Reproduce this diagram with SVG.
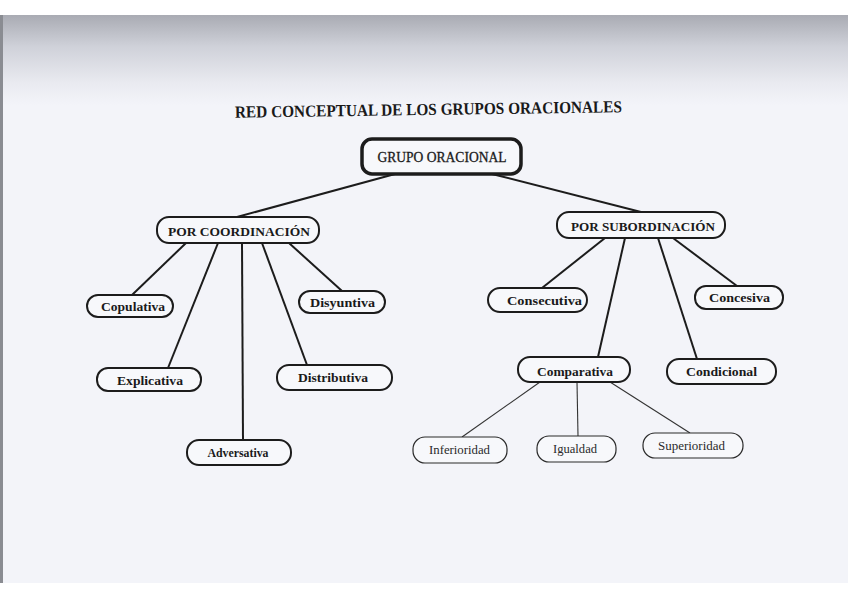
<svg xmlns="http://www.w3.org/2000/svg" width="848" height="599" viewBox="0 0 848 599">
  <defs>
    <linearGradient id="pageTop" x1="0" y1="0" x2="0" y2="1">
      <stop offset="0" stop-color="#a9abb3"/>
      <stop offset="0.35" stop-color="#cfd1d9"/>
      <stop offset="0.75" stop-color="#e9eaf0"/>
      <stop offset="1" stop-color="#f3f4f9"/>
    </linearGradient>
    <style>
      .box { fill: #f7f8fb; stroke: #1c1c1c; stroke-width: 2; }
      .main { fill: #f7f8fb; stroke: #1c1c1c; stroke-width: 3.5; }
      .leaf { fill: #f7f8fb; stroke: #2a2a2a; stroke-width: 1.2; }
      .lbl { font-family: "Liberation Serif", "DejaVu Serif", serif; font-weight: bold; font-size: 13.5px; fill: #1a1a1a; text-anchor: middle; }
      .lbl2 { font-family: "Liberation Serif", "DejaVu Serif", serif; font-weight: normal; font-size: 13px; fill: #2a2a2a; text-anchor: middle; }
      .grp { font-family: "Liberation Serif", "DejaVu Serif", serif; font-weight: normal; font-size: 14.5px; fill: #1a1a1a; text-anchor: middle; stroke: #1a1a1a; stroke-width: 0.3; }
      .title { font-family: "Liberation Serif", "DejaVu Serif", serif; font-weight: bold; font-size: 17px; fill: #1a1a1a; text-anchor: middle; }
      .conn line { stroke: #1c1c1c; stroke-width: 2; }
      .conn line.thin { stroke: #333; stroke-width: 1.1; }
    </style>
  </defs>

  <!-- page background -->
  <rect x="0" y="0" width="848" height="599" fill="#ffffff"/>
  <rect x="0" y="15" width="848" height="568" fill="#f3f4f9"/>
  <rect x="0" y="15" width="848" height="90" fill="url(#pageTop)"/>
  <rect x="0" y="15" width="3" height="568" fill="#8a8c92"/>

  <!-- title -->
  <text class="title" x="428.5" y="115" textLength="387" lengthAdjust="spacingAndGlyphs" transform="rotate(-0.8 428.5 112)">RED CONCEPTUAL DE LOS GRUPOS ORACIONALES</text>

  <!-- connectors -->
  <g id="connectors" class="conn">
    <line x1="395" y1="174" x2="237" y2="217"/>
    <line x1="492" y1="174" x2="641" y2="212"/>
    <line x1="186" y1="243" x2="132" y2="295"/>
    <line x1="218" y1="243" x2="168" y2="368"/>
    <line x1="242" y1="243" x2="243" y2="440"/>
    <line x1="262" y1="243" x2="307" y2="365"/>
    <line x1="289" y1="243" x2="342" y2="291"/>
    <line x1="605" y1="238" x2="542" y2="288"/>
    <line x1="625" y1="238" x2="598" y2="357"/>
    <line x1="658" y1="238" x2="697" y2="359"/>
    <line x1="673" y1="238" x2="737" y2="286"/>
    <line class="thin" x1="540" y1="382" x2="462" y2="437"/>
    <line class="thin" x1="577" y1="382" x2="578" y2="436"/>
    <line class="thin" x1="610" y1="382" x2="690" y2="433"/>
  </g>

  <g id="grupo-oracional">
    <rect class="main" x="362" y="139" width="159" height="35" rx="10"/>
    <text class="grp" x="442" y="161.5" textLength="129" lengthAdjust="spacingAndGlyphs">GRUPO ORACIONAL</text>
  </g>

  <g id="por-coordinacion">
    <rect class="box" x="157" y="217" width="162" height="26" rx="12"/>
    <text class="lbl" x="239" y="236" textLength="142" lengthAdjust="spacingAndGlyphs">POR COORDINACIÓN</text>
  </g>
  <g id="por-subordinacion">
    <rect class="box" x="557" y="212" width="168" height="26" rx="12"/>
    <text class="lbl" x="643" y="231" textLength="144" lengthAdjust="spacingAndGlyphs">POR SUBORDINACIÓN</text>
  </g>

  <g id="copulativa">
    <rect class="box" x="87" y="295" width="86" height="22" rx="11"/>
    <text class="lbl" x="133" y="310.5" textLength="64" lengthAdjust="spacingAndGlyphs">Copulativa</text>
  </g>
  <g id="explicativa">
    <rect class="box" x="97" y="368" width="104" height="23" rx="11"/>
    <text class="lbl" x="150" y="384.5" textLength="66" lengthAdjust="spacingAndGlyphs">Explicativa</text>
  </g>
  <g id="adversativa">
    <rect class="box" x="187" y="440" width="104" height="25" rx="12"/>
    <text class="lbl" x="238" y="457" textLength="61" lengthAdjust="spacingAndGlyphs">Adversativa</text>
  </g>
  <g id="distributiva">
    <rect class="box" x="277" y="365" width="115" height="25" rx="12"/>
    <text class="lbl" x="333" y="382" textLength="70" lengthAdjust="spacingAndGlyphs">Distributiva</text>
  </g>
  <g id="disyuntiva">
    <rect class="box" x="299" y="291" width="86" height="22" rx="11"/>
    <text class="lbl" x="342.5" y="307" textLength="65" lengthAdjust="spacingAndGlyphs">Disyuntiva</text>
  </g>

  <g id="consecutiva">
    <rect class="box" x="488" y="288" width="99" height="24" rx="12"/>
    <text class="lbl" x="544.5" y="304.5" textLength="75" lengthAdjust="spacingAndGlyphs">Consecutiva</text>
  </g>
  <g id="concesiva">
    <rect class="box" x="695" y="286" width="88" height="23" rx="11"/>
    <text class="lbl" x="739.5" y="302" textLength="61" lengthAdjust="spacingAndGlyphs">Concesiva</text>
  </g>
  <g id="comparativa">
    <rect class="box" x="518" y="357" width="112" height="25" rx="12"/>
    <text class="lbl" x="575" y="376" textLength="76" lengthAdjust="spacingAndGlyphs">Comparativa</text>
  </g>
  <g id="condicional">
    <rect class="box" x="667" y="359" width="109" height="25" rx="12"/>
    <text class="lbl" x="721.5" y="375.5" textLength="71" lengthAdjust="spacingAndGlyphs">Condicional</text>
  </g>

  <g id="inferioridad">
    <rect class="leaf" x="413" y="437" width="94" height="26" rx="12"/>
    <text class="lbl2" x="459.5" y="454" textLength="61" lengthAdjust="spacingAndGlyphs">Inferioridad</text>
  </g>
  <g id="igualdad">
    <rect class="leaf" x="537" y="436" width="79" height="26" rx="12"/>
    <text class="lbl2" x="575" y="453" textLength="44" lengthAdjust="spacingAndGlyphs">Igualdad</text>
  </g>
  <g id="superioridad">
    <rect class="leaf" x="643" y="433" width="100" height="25" rx="12"/>
    <text class="lbl2" x="691.5" y="450" textLength="67" lengthAdjust="spacingAndGlyphs">Superioridad</text>
  </g>
</svg>
